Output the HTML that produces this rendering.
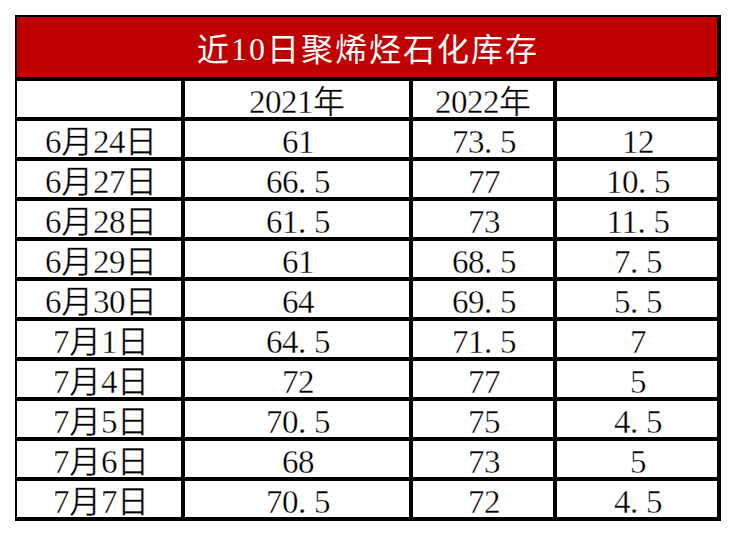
<!DOCTYPE html>
<html lang="zh-CN"><head><meta charset="utf-8"><style>
html,body{margin:0;padding:0;background:#fff;width:736px;height:536px;overflow:hidden;position:relative}
.g{position:absolute;left:15px;top:15px;width:706px;height:506px;background:#000}
.w{position:absolute;background:#fff}
.t{position:absolute;left:17px;top:17px;width:700px;height:60px;background:#c00000}
.tt{position:absolute;left:18px;top:19px;width:700px;height:60px;color:#fff;letter-spacing:2px;
font-family:"Liberation Serif",serif;font-size:32px;line-height:60px;text-align:center;white-space:nowrap;-webkit-text-stroke:0.0px #c00000}
.c{position:absolute;color:#000;font-family:"Liberation Serif",serif;font-size:33px;text-align:center;white-space:nowrap;line-height:36px;height:36px;letter-spacing:-0.5px;-webkit-text-stroke:0.35px #fff}
.c i{font-style:normal;display:inline-block;width:16px;text-align:left}
.c b{font-weight:400;position:relative;top:0px;font-size:32px;letter-spacing:0}
.tt b{font-weight:normal;position:relative;top:1px}
</style></head><body>
<div class="g"></div>
<div class="t"></div>
<div class="w" style="left:17px;top:81px;width:164px;height:36px"></div>
<div class="w" style="left:185px;top:81px;width:224px;height:36px"></div>
<div class="w" style="left:413px;top:81px;width:140px;height:36px"></div>
<div class="w" style="left:557px;top:81px;width:160px;height:36px"></div>
<div class="w" style="left:17px;top:121px;width:164px;height:36px"></div>
<div class="w" style="left:185px;top:121px;width:224px;height:36px"></div>
<div class="w" style="left:413px;top:121px;width:140px;height:36px"></div>
<div class="w" style="left:557px;top:121px;width:160px;height:36px"></div>
<div class="w" style="left:17px;top:161px;width:164px;height:36px"></div>
<div class="w" style="left:185px;top:161px;width:224px;height:36px"></div>
<div class="w" style="left:413px;top:161px;width:140px;height:36px"></div>
<div class="w" style="left:557px;top:161px;width:160px;height:36px"></div>
<div class="w" style="left:17px;top:201px;width:164px;height:36px"></div>
<div class="w" style="left:185px;top:201px;width:224px;height:36px"></div>
<div class="w" style="left:413px;top:201px;width:140px;height:36px"></div>
<div class="w" style="left:557px;top:201px;width:160px;height:36px"></div>
<div class="w" style="left:17px;top:241px;width:164px;height:36px"></div>
<div class="w" style="left:185px;top:241px;width:224px;height:36px"></div>
<div class="w" style="left:413px;top:241px;width:140px;height:36px"></div>
<div class="w" style="left:557px;top:241px;width:160px;height:36px"></div>
<div class="w" style="left:17px;top:281px;width:164px;height:36px"></div>
<div class="w" style="left:185px;top:281px;width:224px;height:36px"></div>
<div class="w" style="left:413px;top:281px;width:140px;height:36px"></div>
<div class="w" style="left:557px;top:281px;width:160px;height:36px"></div>
<div class="w" style="left:17px;top:321px;width:164px;height:36px"></div>
<div class="w" style="left:185px;top:321px;width:224px;height:36px"></div>
<div class="w" style="left:413px;top:321px;width:140px;height:36px"></div>
<div class="w" style="left:557px;top:321px;width:160px;height:36px"></div>
<div class="w" style="left:17px;top:361px;width:164px;height:36px"></div>
<div class="w" style="left:185px;top:361px;width:224px;height:36px"></div>
<div class="w" style="left:413px;top:361px;width:140px;height:36px"></div>
<div class="w" style="left:557px;top:361px;width:160px;height:36px"></div>
<div class="w" style="left:17px;top:401px;width:164px;height:36px"></div>
<div class="w" style="left:185px;top:401px;width:224px;height:36px"></div>
<div class="w" style="left:413px;top:401px;width:140px;height:36px"></div>
<div class="w" style="left:557px;top:401px;width:160px;height:36px"></div>
<div class="w" style="left:17px;top:441px;width:164px;height:36px"></div>
<div class="w" style="left:185px;top:441px;width:224px;height:36px"></div>
<div class="w" style="left:413px;top:441px;width:140px;height:36px"></div>
<div class="w" style="left:557px;top:441px;width:160px;height:36px"></div>
<div class="w" style="left:17px;top:481px;width:164px;height:36px"></div>
<div class="w" style="left:185px;top:481px;width:224px;height:36px"></div>
<div class="w" style="left:413px;top:481px;width:140px;height:36px"></div>
<div class="w" style="left:557px;top:481px;width:160px;height:36px"></div>
<div class="tt"><b>近</b>10<b>日</b><b>聚</b><b>烯</b><b>烃</b><b>石</b><b>化</b><b>库</b><b>存</b></div>
<div class="c" style="left:185px;top:84px;width:224px">2021<b>年</b></div>
<div class="c" style="left:413px;top:84px;width:140px">2022<b>年</b></div>
<div class="c" style="left:19px;top:124px;width:164px">6<b>月</b>24<b>日</b></div>
<div class="c" style="left:186px;top:124px;width:224px">61</div>
<div class="c" style="left:414px;top:124px;width:140px">73<i>.</i>5</div>
<div class="c" style="left:558px;top:124px;width:160px">12</div>
<div class="c" style="left:19px;top:164px;width:164px">6<b>月</b>27<b>日</b></div>
<div class="c" style="left:186px;top:164px;width:224px">66<i>.</i>5</div>
<div class="c" style="left:414px;top:164px;width:140px">77</div>
<div class="c" style="left:558px;top:164px;width:160px">10<i>.</i>5</div>
<div class="c" style="left:19px;top:204px;width:164px">6<b>月</b>28<b>日</b></div>
<div class="c" style="left:186px;top:204px;width:224px">61<i>.</i>5</div>
<div class="c" style="left:414px;top:204px;width:140px">73</div>
<div class="c" style="left:558px;top:204px;width:160px">11<i>.</i>5</div>
<div class="c" style="left:19px;top:244px;width:164px">6<b>月</b>29<b>日</b></div>
<div class="c" style="left:186px;top:244px;width:224px">61</div>
<div class="c" style="left:414px;top:244px;width:140px">68<i>.</i>5</div>
<div class="c" style="left:558px;top:244px;width:160px">7<i>.</i>5</div>
<div class="c" style="left:19px;top:284px;width:164px">6<b>月</b>30<b>日</b></div>
<div class="c" style="left:186px;top:284px;width:224px">64</div>
<div class="c" style="left:414px;top:284px;width:140px">69<i>.</i>5</div>
<div class="c" style="left:558px;top:284px;width:160px">5<i>.</i>5</div>
<div class="c" style="left:19px;top:324px;width:164px">7<b>月</b>1<b>日</b></div>
<div class="c" style="left:186px;top:324px;width:224px">64<i>.</i>5</div>
<div class="c" style="left:414px;top:324px;width:140px">71<i>.</i>5</div>
<div class="c" style="left:558px;top:324px;width:160px">7</div>
<div class="c" style="left:19px;top:364px;width:164px">7<b>月</b>4<b>日</b></div>
<div class="c" style="left:186px;top:364px;width:224px">72</div>
<div class="c" style="left:414px;top:364px;width:140px">77</div>
<div class="c" style="left:558px;top:364px;width:160px">5</div>
<div class="c" style="left:19px;top:404px;width:164px">7<b>月</b>5<b>日</b></div>
<div class="c" style="left:186px;top:404px;width:224px">70<i>.</i>5</div>
<div class="c" style="left:414px;top:404px;width:140px">75</div>
<div class="c" style="left:558px;top:404px;width:160px">4<i>.</i>5</div>
<div class="c" style="left:19px;top:444px;width:164px">7<b>月</b>6<b>日</b></div>
<div class="c" style="left:186px;top:444px;width:224px">68</div>
<div class="c" style="left:414px;top:444px;width:140px">73</div>
<div class="c" style="left:558px;top:444px;width:160px">5</div>
<div class="c" style="left:19px;top:484px;width:164px">7<b>月</b>7<b>日</b></div>
<div class="c" style="left:186px;top:484px;width:224px">70<i>.</i>5</div>
<div class="c" style="left:414px;top:484px;width:140px">72</div>
<div class="c" style="left:558px;top:484px;width:160px">4<i>.</i>5</div>
</body></html>
